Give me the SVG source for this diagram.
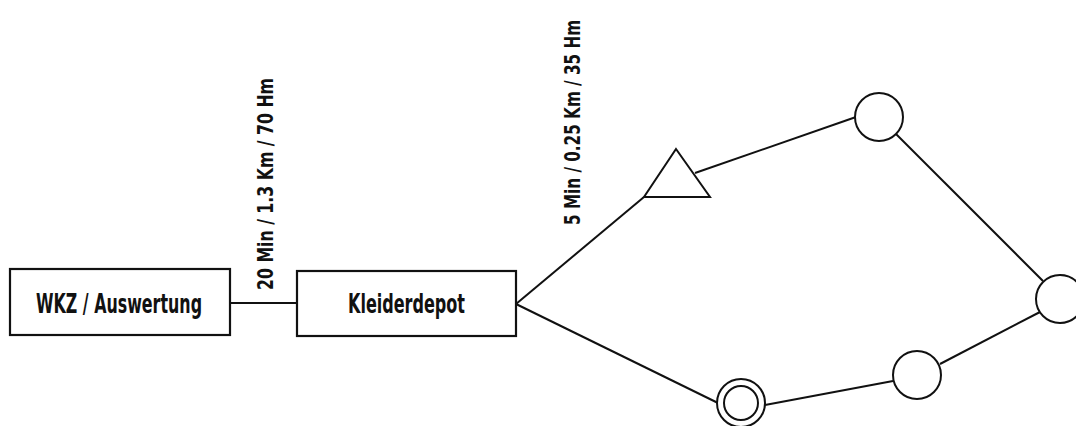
<svg xmlns="http://www.w3.org/2000/svg" width="1076" height="426" viewBox="0 0 1076 426">
<style>
.box{fill:#fff;stroke:#111;stroke-width:2.2}
.shape{fill:#fff;stroke:#111;stroke-width:2}
.edge{stroke:#111;stroke-width:2;fill:none}
.t{font-family:"Liberation Sans Narrow","DejaVu Sans Condensed","Liberation Sans",sans-serif;font-weight:bold;fill:#111}
.bt{font-size:27px}
.lt{font-size:21px}
</style>
<rect width="1076" height="426" fill="#fff"/>
<g id="connectors">
<line class="edge" x1="230" y1="303" x2="297" y2="303"/>
<line class="edge" x1="516" y1="304" x2="644" y2="197"/>
<line class="edge" x1="516" y1="304" x2="718" y2="403"/>
<line class="edge" x1="695" y1="173" x2="856" y2="117"/>
<line class="edge" x1="896" y1="134" x2="1043" y2="281"/>
<line class="edge" x1="765" y1="405" x2="893" y2="381"/>
<line class="edge" x1="940" y1="364" x2="1040" y2="312"/>
</g>
<g id="label1"><text class="t lt" transform="translate(273,290) rotate(-90)" textLength="212" lengthAdjust="spacingAndGlyphs">20 Min / 1.3 Km / 70 Hm</text></g>
<g id="label2"><text class="t lt" transform="translate(580,225) rotate(-90)" textLength="205" lengthAdjust="spacingAndGlyphs">5 Min / 0.25 Km / 35 Hm</text></g>
<g id="wkz">
<rect class="box" x="10" y="269" width="220" height="66"/>
<text class="t bt" x="36" y="313" textLength="166" lengthAdjust="spacingAndGlyphs">WKZ / Auswertung</text>
</g>
<g id="kleiderdepot">
<rect class="box" x="297" y="271" width="219" height="65"/>
<text class="t bt" x="348" y="313" textLength="117" lengthAdjust="spacingAndGlyphs">Kleiderdepot</text>
</g>
<g id="triangle"><polygon class="shape" points="676,149 710,197 644,197"/></g>
<g id="circle1"><circle class="shape" cx="879" cy="117" r="24"/></g>
<g id="circle2"><circle class="shape" cx="1060" cy="299" r="24"/></g>
<g id="circle3"><circle class="shape" cx="917" cy="375" r="24"/></g>
<g id="target">
<circle class="shape" cx="741" cy="403" r="24"/>
<circle class="shape" cx="741" cy="403" r="17"/>
</g>
</svg>
